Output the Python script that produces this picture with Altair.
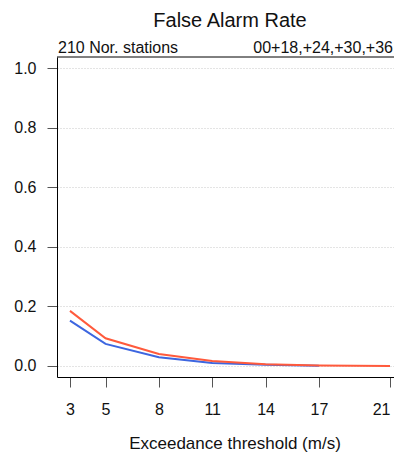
import altair as alt
import pandas as pd

thresholds = [3, 5, 8, 11, 14, 17, 21]
red_vals = [0.185, 0.093, 0.040, 0.017, 0.006, 0.002, 0.0]
blue_thresholds = [3, 5, 8, 11, 14, 17]
blue_vals = [0.152, 0.074, 0.029, 0.010, 0.004, 0.001]
y_ticks = [0.0, 0.2, 0.4, 0.6, 0.8, 1.0]

df = pd.concat([
    pd.DataFrame({"thr": blue_thresholds, "far": blue_vals, "series": "B", "order": 0}),
    pd.DataFrame({"thr": thresholds, "far": red_vals, "series": "R", "order": 1}),
])

FONT = "Liberation Sans"

x_scale = alt.Scale(domain=[2.27, 21.225], nice=False, zero=False)
y_scale = alt.Scale(domain=[-0.037, 1.037], nice=False, zero=False)

lines = alt.Chart(df).mark_line(strokeWidth=2, clip=True).encode(
    x=alt.X("thr:Q", scale=x_scale,
            axis=alt.Axis(values=thresholds, title=None, grid=False, domain=True,
                          domainColor="black", domainWidth=1, labelFlush=6,
                          tickSize=10, tickColor="#555555", labelFontSize=16,
                          labelPadding=14, labelColor="#111111", labelFont=FONT)),
    y=alt.Y("far:Q", scale=y_scale,
            axis=alt.Axis(values=y_ticks, format=".1f", title=None, domain=True,
                          domainColor="black", domainWidth=1,
                          tickSize=10, tickColor="#555555", labelFontSize=16,
                          labelPadding=11, labelColor="#111111", labelFont=FONT,
                          grid=True, gridColor="#c8c8c8", gridDash=[1, 2], gridWidth=1)),
    color=alt.Color("series:N", scale=alt.Scale(domain=["B", "R"], range=["#3D66E0", "#FF5A3C"]),
                    legend=None),
    order=alt.Order("order:Q"),
)

# top border of the frame
top_border = alt.Chart(pd.DataFrame({"k": [0]})).mark_rule(color="black", strokeWidth=1).encode(
    x=alt.value(0), x2=alt.value(337), y=alt.value(0))

title = alt.Chart(pd.DataFrame({"t": ["False Alarm Rate"]})).mark_text(
    fontSize=20, font=FONT, align="center", baseline="alphabetic", color="#111111").encode(
    x=alt.value(173), y=alt.value(-30), text="t:N")

sub_l = alt.Chart(pd.DataFrame({"t": ["210 Nor. stations"]})).mark_text(
    fontSize=16, font=FONT, align="left", baseline="alphabetic", color="#111111").encode(
    x=alt.value(1), y=alt.value(-4), text="t:N")

sub_r = alt.Chart(pd.DataFrame({"t": ["00+18,+24,+30,+36"]})).mark_text(
    fontSize=16, font=FONT, align="right", baseline="alphabetic", color="#111111").encode(
    x=alt.value(336), y=alt.value(-4), text="t:N")

xt = alt.Chart(pd.DataFrame({"t": ["Exceedance threshold (m/s)"]})).mark_text(
    fontSize=17, font=FONT, align="center", baseline="alphabetic", color="#111111").encode(
    x=alt.value(178), y=alt.value(392), text="t:N")

chart = alt.layer(lines, top_border, title, sub_l, sub_r, xt).properties(
    width=337, height=320,
    autosize=alt.AutoSizeParams(type="none"),
    padding={"left": 49, "top": 49, "right": 0, "bottom": 77},
    background="white",
).configure_view(stroke=None)

chart.save("out.html", embed_options={"renderer": "svg", "actions": False})
